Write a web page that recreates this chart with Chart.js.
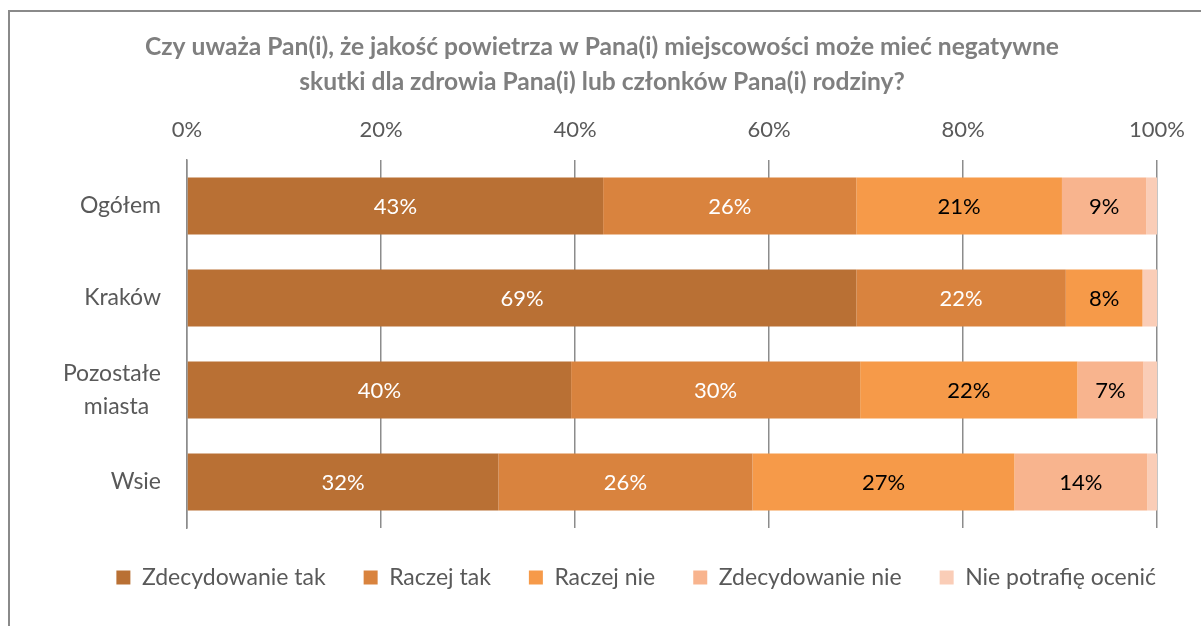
<!DOCTYPE html>
<html>
<head>
<meta charset="utf-8">
<script src="https://cdn.jsdelivr.net/npm/chart.js@4"></script>
<style>
html,body{margin:0;padding:0;background:#fff;}
#wrap{position:relative;width:1201px;height:626px;}
#frame{position:absolute;left:8px;top:10px;width:1300px;height:700px;border-left:2px solid #8a8a8a;border-top:2px solid #8a8a8a;box-sizing:border-box;pointer-events:none;}
canvas{position:absolute;left:0;top:0;}
</style>
</head>
<body>
<div id="wrap">
<canvas id="c" width="1201" height="626"></canvas>
<div id="frame"></div>
</div>
<script>
const categories = ['Ogółem', 'Kraków', ['Pozostałe', 'miasta\u00A0\u00A0'], 'Wsie'];
const seriesNames = ['Zdecydowanie tak', 'Raczej tak', 'Raczej nie', 'Zdecydowanie nie', 'Nie potrafię ocenić'];
const zdecydowanieTak = [42.9, 69.0, 39.6, 32.1];
const raczejTak = [26.1, 21.6, 29.8, 26.2];
const raczejNie = [21.2, 7.9, 22.4, 27.0];
const zdecydowanieNie = [8.7, 0, 6.8, 13.7];
const niePotrafie = [1.1, 1.5, 1.4, 1.0];
const xTicks = [0, 20, 40, 60, 80, 100];
const seriesColors = ['#B97034', '#D9833E', '#F69A49', '#F8B48E', '#FACDB7'];
const labelColors = ['#FFFFFF', '#FFFFFF', '#000000', '#000000', '#000000'];
const FONT = 'Lato, "Open Sans", sans-serif';

const allSeries = [zdecydowanieTak, raczejTak, raczejNie, zdecydowanieNie, niePotrafie];

const barLabels = {
  id: 'barLabels',
  afterDatasetsDraw(chart) {
    const ctx = chart.ctx;
    ctx.save();
    ctx.font = '22px ' + FONT;
    ctx.textAlign = 'center';
    ctx.textBaseline = 'middle';
    chart.data.datasets.forEach((ds, di) => {
      const meta = chart.getDatasetMeta(di);
      meta.data.forEach((el, i) => {
        const v = ds.data[i];
        if (v < 5) return;
        ctx.fillStyle = labelColors[di];
        ctx.fillText(Math.round(v) + '%', (el.x + el.base) / 2, el.y + 1);
      });
    });
    ctx.restore();
  }
};

new Chart(document.getElementById('c'), {
  type: 'bar',
  data: {
    labels: categories,
    datasets: allSeries.map((d, i) => ({
      label: seriesNames[i],
      data: d,
      backgroundColor: seriesColors[i],
      borderWidth: 0,
      barPercentage: 0.62,
      categoryPercentage: 1.0
    }))
  },
  options: {
    indexAxis: 'y',
    responsive: false,
    animation: false,
    layout: { padding: { left: 10, right: 7, top: 30, bottom: 27 } },
    scales: {
      x: {
        position: 'top',
        stacked: true,
        min: 0,
        max: 100,
        afterBuildTicks(scale) { scale.ticks = xTicks.map(v => ({ value: v })); },
        afterFit(scale) { scale.height = 60; scale.paddingRight = 44; },
        ticks: {
          callback: v => v + '%',
          color: '#595959',
          font: { family: FONT, size: 22 },
          padding: 17
        },
        grid: { color: '#8c8c8c', lineWidth: 1.5, drawTicks: false },
        border: { display: false }
      },
      y: {
        stacked: true,
        afterFit(scale) { scale.width = 177; },
        ticks: {
          color: '#595959',
          font: { family: FONT, size: 23, lineHeight: 1.4 },
          padding: 26
        },
        grid: { display: false, drawTicks: false },
        border: { display: true, color: '#8c8c8c', width: 1.5 }
      }
    },
    plugins: {
      title: {
        display: true,
        text: ['Czy uważa Pan(i), że jakość powietrza w Pana(i) miejscowości może mieć negatywne', 'skutki dla zdrowia Pana(i) lub członków Pana(i) rodziny?'],
        color: '#7F7F7F',
        font: { family: FONT, size: 24.6, weight: 'bold', lineHeight: '35px' },
        padding: { top: 0, bottom: 0 }
      },
      legend: {
        position: 'bottom',
        align: 'end',
        labels: {
          boxWidth: 14,
          boxHeight: 14,
          padding: 38,
          color: '#595959',
          font: { family: FONT, size: 23 }
        }
      },
      tooltip: { enabled: false }
    }
  },
  plugins: [barLabels]
});
</script>
</body>
</html>
